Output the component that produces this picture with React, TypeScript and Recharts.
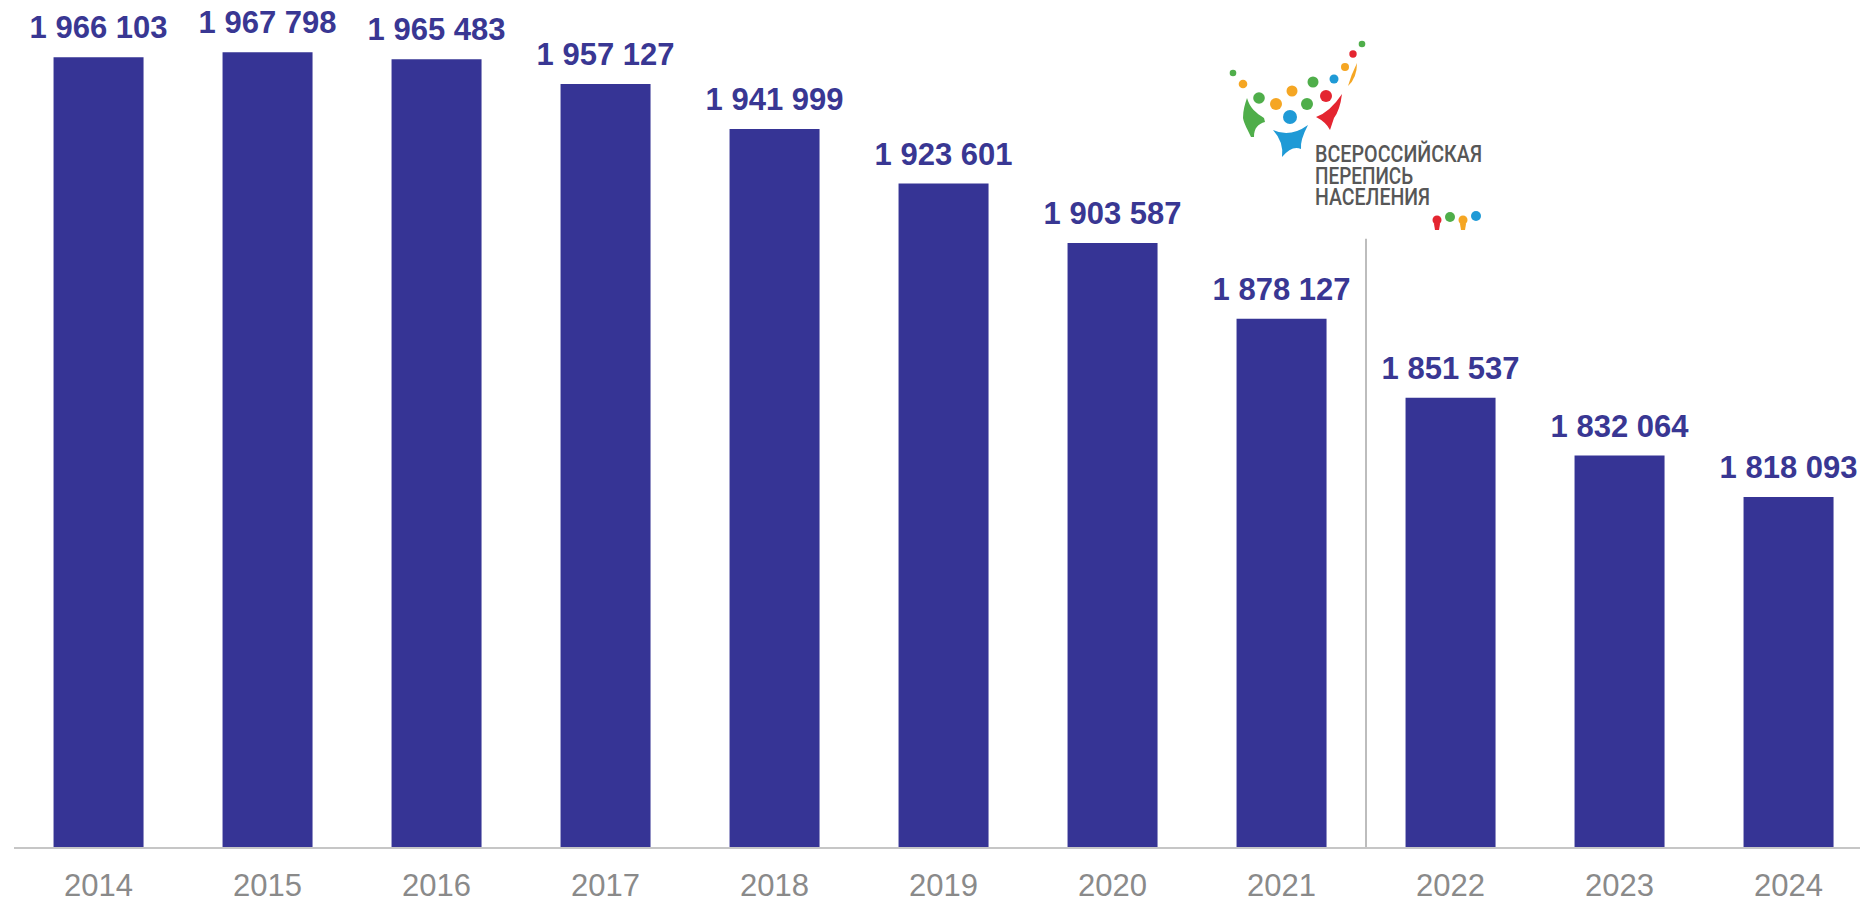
import { BarChart, Bar, XAxis, YAxis, LabelList, ReferenceLine } from "recharts";

const YEARS = ["2014", "2015", "2016", "2017", "2018", "2019", "2020", "2021", "2022", "2023", "2024"];
const POPULATION = [1966103, 1967798, 1965483, 1957127, 1941999, 1923601, 1903587, 1878127, 1851537, 1832064, 1818093];
const Y_DOMAIN = [1700000, 1980000];
// census divider, drawn between 2021 and 2022
const CENSUS_YEAR = "2021";
const CENSUS_LINE_TOP = 1905000;

const LOGO_LINES = ["ВСЕРОССИЙСКАЯ", "ПЕРЕПИСЬ", "НАСЕЛЕНИЯ"];

const BAR_COLOR = "#363495";
const LABEL_COLOR = "#393793";
const TICK_COLOR = "#8a8a8a";

const data = YEARS.map((year, i) => ({ year, value: POPULATION[i] }));

// non-breaking spaces so the label never wraps
const fmt = (v: number) => String(v).replace(/\B(?=(\d{3})+(?!\d))/g, "\u00A0");

function CensusLogo() {
  return (
    <svg
      width={1860}
      height={901}
      style={{ position: "absolute", left: 0, top: 0, pointerEvents: "none" }}
    >
      {/* people and dots */}
      <circle cx={1233} cy={73} r={3.3} fill="#4fae4a" />
      <circle cx={1243} cy={84} r={4.3} fill="#f5a623" />
      <circle cx={1259} cy={98} r={5.8} fill="#4fae4a" />
      <path
        d="M1247,98 C1250,108 1256,113 1264,118 L1265,122 C1258,124 1254,128 1254,137 L1251,137 C1248,130 1244,124 1243,118 C1243,110 1245,104 1247,98 Z"
        fill="#4fae4a"
      />
      <circle cx={1276} cy={104} r={6} fill="#f5a623" />
      <circle cx={1292} cy={91} r={5.5} fill="#f5a623" />
      <circle cx={1313} cy={82} r={5.5} fill="#4fae4a" />
      <circle cx={1307} cy={104} r={6} fill="#4fae4a" />
      <circle cx={1290} cy={117} r={7} fill="#1f9ad6" />
      <path
        d="M1273,130 Q1290,138 1308,125 Q1300,140 1301,149 Q1292,145 1282,157 Q1284,142 1273,130 Z"
        fill="#1f9ad6"
      />
      <circle cx={1326} cy={96} r={6} fill="#e42530" />
      <path d="M1316,117 Q1330,112 1342,94 Q1340,110 1334,118 L1330,130 Q1326,122 1316,117 Z" fill="#e42530" />
      <circle cx={1334} cy={79} r={4.5} fill="#1f9ad6" />
      <circle cx={1345} cy={67} r={4} fill="#f5a623" />
      <path d="M1357,63 Q1357,78 1348,86 Q1351,75 1357,63 Z" fill="#f5a623" />
      <circle cx={1353} cy={54} r={3.7} fill="#e42530" />
      <circle cx={1362} cy={44} r={3.3} fill="#4fae4a" />

      {LOGO_LINES.map((line, i) => (
        <text
          key={line}
          x={1315}
          y={162 + i * 21.5}
          fontFamily="Roboto, 'Liberation Sans', sans-serif"
          fontWeight={500}
          fontSize={23.5}
          fill="#575757"
          textLength={[167, 98, 115][i]}
          lengthAdjust="spacingAndGlyphs"
        >
          {line}
        </text>
      ))}

      {/* little "2020" figures */}
      <circle cx={1437} cy={220} r={4.5} fill="#e42530" />
      <path d="M1434,224 L1440,224 L1439,230 L1435,230 Z" fill="#e42530" />
      <circle cx={1450} cy={217} r={5} fill="#4fae4a" />
      <circle cx={1463} cy={220} r={4.5} fill="#f5a623" />
      <path d="M1460,224 L1466,224 L1465,230 L1461,230 Z" fill="#f5a623" />
      <circle cx={1476} cy={216} r={5} fill="#1f9ad6" />
    </svg>
  );
}

export default function App() {
  return (
    <div
      style={{
        position: "absolute",
        left: 0,
        top: 0,
        width: 1860,
        height: 901,
        overflow: "hidden",
        background: "#fff",
      }}
    >
      <BarChart
        width={1890}
        height={901}
        data={data}
        margin={{ top: 16, right: 17, bottom: 0, left: 14 }}
        barCategoryGap="23.4%"
      >
        <XAxis
          dataKey="year"
          height={53}
          axisLine={{ stroke: "#c6c6c6", strokeWidth: 2 }}
          tickLine={false}
          tickMargin={20}
          tick={{ fontSize: 31, fill: TICK_COLOR, fontFamily: "'Liberation Sans', Arial, sans-serif" }}
          interval={0}
        />
        <YAxis hide domain={Y_DOMAIN} allowDataOverflow />
        <ReferenceLine
          segment={[
            { x: CENSUS_YEAR, y: CENSUS_LINE_TOP },
            { x: CENSUS_YEAR, y: Y_DOMAIN[0] },
          ]}
          position="end"
          stroke="#bdbdbd"
          strokeWidth={2}
        />
        <Bar dataKey="value" fill={BAR_COLOR} isAnimationActive={false}>
          <LabelList
            dataKey="value"
            position="top"
            offset={19}
            formatter={(v: number) => fmt(v)}
            style={{
              fontSize: 31,
              fontWeight: 700,
              fill: LABEL_COLOR,
              fontFamily: "'Liberation Sans', Arial, sans-serif",
            }}
          />
        </Bar>
      </BarChart>
      <CensusLogo />
    </div>
  );
}
